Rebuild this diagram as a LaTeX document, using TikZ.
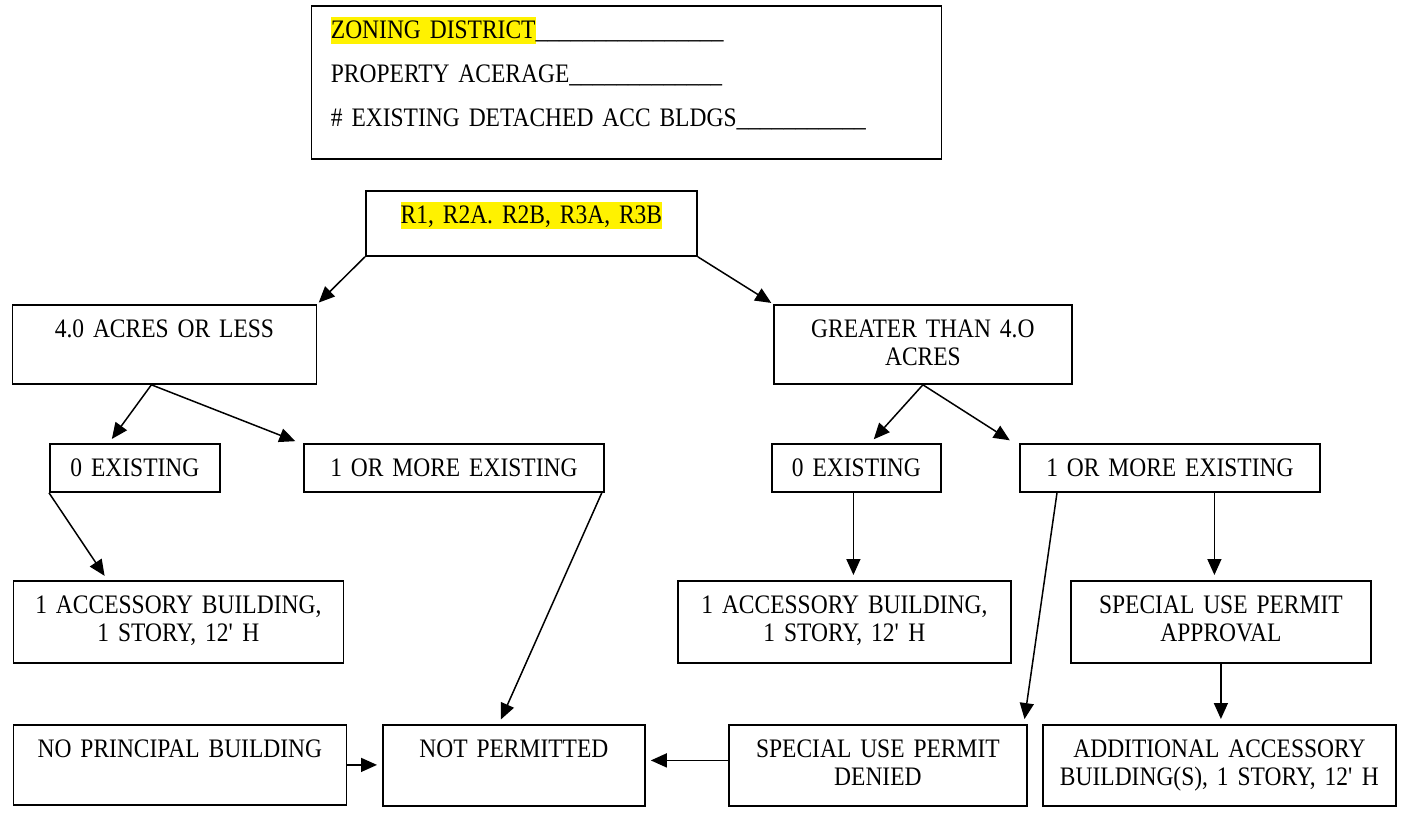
\documentclass[tikz,border=0pt]{standalone}
\usepackage{fontspec}
\setmainfont{Liberation Serif}[FakeStretch=0.88]
\usepackage{xcolor}
\usetikzlibrary{arrows.meta, positioning}

% gelbe Markierung wie im Formular
\newcommand{\markiert}[1]{{\setlength{\fboxsep}{0pt}\colorbox{yellow}{\rule[-5pt]{0pt}{27pt}#1}}}

\begin{document}
\begin{tikzpicture}[
    x=1pt, y=-1pt, % Pixelkoordinaten, y nach unten
    % Stil für alle Kästen (Text oben, zentriert)
    kasten/.style={
      rectangle,
      draw=black,
      line width=1.8pt,
      anchor=north west,
      inner sep=0pt,
      align=center,
      text height=33pt,
      font=\fontsize{26.7}{27.5}\selectfont
    },
    % Stil für die Pfeile
    pfeil/.style={
      -{Triangle[length=16pt, width=14pt]},
      line width=1.5pt,
      shorten >=5pt
    }
  ]
  \useasboundingbox (0,0) rectangle (1402,812);

  % --- FORMULARKOPF ---
  \node[kasten, align=left, text width=591pt, inner xsep=19.5pt, text depth=120pt] (daten) at (310.5,5) {
    \markiert{ZONING DISTRICT}\_\_\_\_\_\_\_\_\_\_\_\_\_\_\_\_ \\[16.5pt]
    PROPERTY ACERAGE\_\_\_\_\_\_\_\_\_\_\_\_\_ \\[16.5pt]
    \# EXISTING DETACHED ACC BLDGS\_\_\_\_\_\_\_\_\_\_\_
  };

  % --- DEFINITION DER KNOTEN (KÄSTEN) ---

  % Stufe 1: Bezirk
  \node[kasten, text width=331pt, text depth=32pt] (bezirk) at (365,190) {\markiert{R1, R2A. R2B, R3A, R3B}};

  % Stufe 2: Grundstücksfläche
  \node[kasten, text width=304pt, text depth=46pt] (klein) at (11.5,304) {4.0 ACRES OR LESS};
  \node[kasten, text width=298pt, text depth=46pt] (gross) at (773,304) {GREATER THAN 4.O\\ACRES};

  % Stufe 3: bestehende Nebengebäude
  \node[kasten, text width=170pt, text depth=15pt] (null1) at (49,443) {0 EXISTING};
  \node[kasten, text width=300pt, text depth=15pt] (mehr1) at (303,443) {1 OR MORE EXISTING};
  \node[kasten, text width=169pt, text depth=15pt] (null2) at (771,443) {0 EXISTING};
  \node[kasten, text width=300pt, text depth=15pt] (mehr2) at (1019,443) {1 OR MORE EXISTING};

  % Stufe 4: Ergebnis / Genehmigung
  \node[kasten, text width=330pt, text depth=49pt] (gebaeude1) at (12.5,580) {1 ACCESSORY BUILDING,\\1 STORY, 12\textquotesingle{} H};
  \node[kasten, text width=333pt, text depth=49pt] (gebaeude2) at (677,580) {1 ACCESSORY BUILDING,\\1 STORY, 12\textquotesingle{} H};
  \node[kasten, text width=300pt, text depth=49pt] (genehmigt) at (1070,580) {SPECIAL USE PERMIT\\APPROVAL};

  % Stufe 5: Endergebnisse
  \node[kasten, text width=333pt, text depth=47pt] (keinhaupt) at (12.5,724) {NO PRINCIPAL BUILDING};
  \node[kasten, text width=262pt, text depth=48pt] (nicht) at (382,724) {NOT PERMITTED};
  \node[kasten, text width=298pt, text depth=48pt] (abgelehnt) at (728,724) {SPECIAL USE PERMIT\\DENIED};
  \node[kasten, text width=353pt, text depth=48pt] (zusatz) at (1042,724) {ADDITIONAL ACCESSORY\\BUILDING(S), 1 STORY, 12\textquotesingle{} H};

  % --- ZEICHNEN DER PFEILE ---
  \draw[pfeil, shorten >=2pt] (bezirk.south west) -- (klein.north east);
  \draw[pfeil, shorten >=2pt] (bezirk.south east) -- (gross.north west);

  \draw[pfeil] ([xshift=-13pt]klein.south) -- ([xshift=-26pt]null1.north);
  \draw[pfeil] ([xshift=-13pt]klein.south) -- ([xshift=-3pt]mehr1.north west);
  \draw[pfeil] (gross.south) -- ([xshift=14pt]null2.north);
  \draw[pfeil] (gross.south) -- ([xshift=-5pt]mehr2.north west);

  \draw[pfeil] (null1.south west) -- ([xshift=-71pt]gebaeude1.north);
  \draw[pfeil] ([xshift=-3pt]mehr1.south east) -- ([xshift=-15pt]nicht.north);
  \draw[pfeil] ([xshift=-3pt]null2.south) -- ([xshift=-3pt]null2.south |- gebaeude2.north);
  \draw[pfeil] ([xshift=44.5pt]mehr2.south) -- ([xshift=44.5pt]mehr2.south |- genehmigt.north);
  \draw[pfeil] ([xshift=38pt]mehr2.south west) -- ([xshift=-4pt]abgelehnt.north east);
  \draw[pfeil] (genehmigt.south) -- (genehmigt.south |- zusatz.north);

  % Pfeile zu "NOT PERMITTED"
  \draw[pfeil] ([yshift=5pt]abgelehnt.west) -- ([yshift=5pt]abgelehnt.west -| nicht.east);
  \draw[pfeil] (keinhaupt.east) -- (keinhaupt.east -| nicht.west);

\end{tikzpicture}
\end{document}
